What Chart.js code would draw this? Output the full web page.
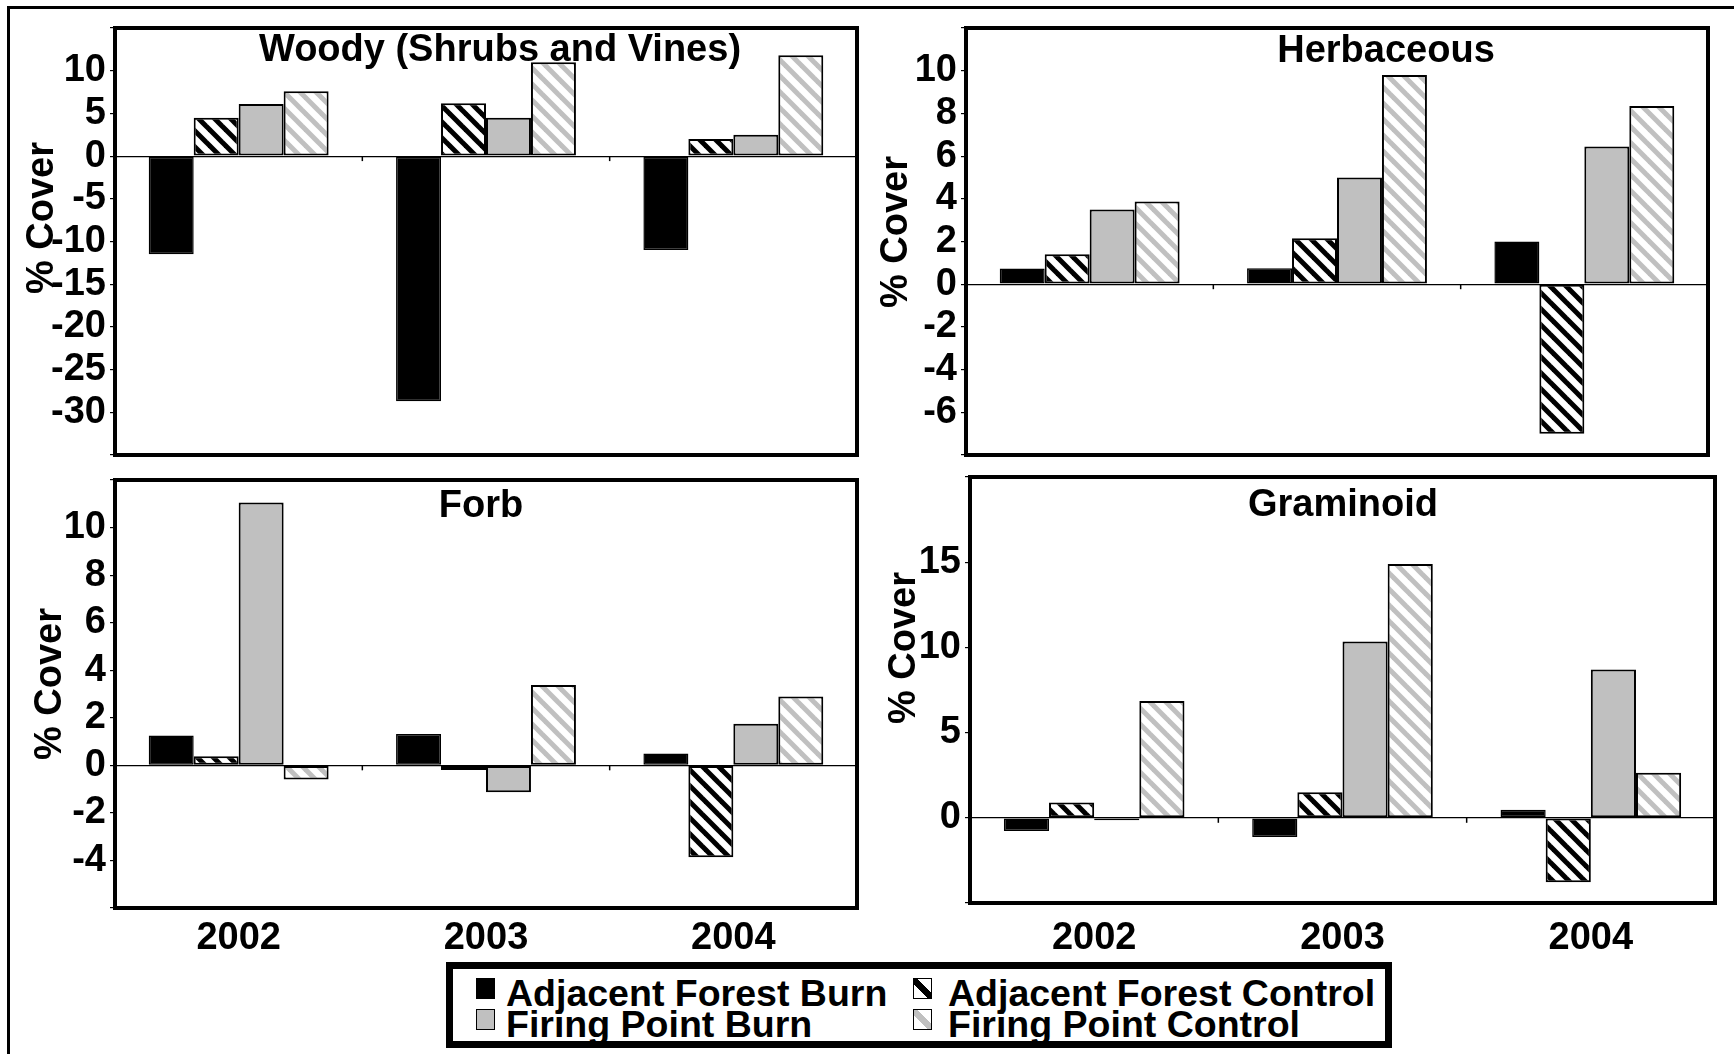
<!DOCTYPE html>
<html>
<head>
<meta charset="utf-8">
<script src="https://cdn.jsdelivr.net/npm/chart.js@4.4.0/dist/chart.umd.min.js"></script>
<style>
  html, body { margin: 0; padding: 0; background: #fff; }
  body { width: 1734px; height: 1054px; position: relative; overflow: hidden;
         font-family: 'Liberation Sans', Arial, sans-serif; }
  canvas { position: absolute; left: 0; top: 0; }
  #frame { position: absolute; left: 7px; top: 6px; width: 1760px; height: 1080px;
           border-top: 3px solid #000; border-left: 3px solid #000; }
  #legend { position: absolute; left: 446px; top: 962px; width: 946px; height: 86px;
            box-sizing: border-box; border: 7px solid #000; background: #fff; }
  #legend .sw { position: absolute; width: 19px; height: 21px; box-sizing: border-box; border: 1.5px solid #000; }
  #legend .tx { position: absolute; font-weight: bold; font-size: 37.5px; line-height: 36px; white-space: nowrap; color: #000; }
</style>
</head>
<body>
<div id="frame"></div>
<canvas id="woody" width="1734" height="1054"></canvas>
<canvas id="herb" width="1734" height="1054"></canvas>
<canvas id="forb" width="1734" height="1054"></canvas>
<canvas id="gram" width="1734" height="1054"></canvas>
<div id="legend">
  <div class="sw" style="left:23px;top:9px;background:#000"></div>
  <div class="tx" style="left:53px;top:6px">Adjacent Forest Burn</div>
  <div class="sw" style="left:460px;top:9px;background:linear-gradient(45deg,#fff 38%,#000 38%,#000 62%,#fff 62%)"></div>
  <div class="tx" style="left:495px;top:6px">Adjacent Forest Control</div>
  <div class="sw" style="left:23px;top:40px;background:#c0c0c0"></div>
  <div class="tx" style="left:53px;top:37px">Firing Point Burn</div>
  <div class="sw" style="left:460px;top:40px;background:linear-gradient(45deg,#fff 38%,#c0c0c0 38%,#c0c0c0 62%,#fff 62%)"></div>
  <div class="tx" style="left:495px;top:37px">Firing Point Control</div>
</div>
<script>
const years = ['2002', '2003', '2004'];
const seriesNames = ['Adjacent Forest Burn', 'Adjacent Forest Control', 'Firing Point Burn', 'Firing Point Control'];

// Woody (Shrubs and Vines)
const woodyAFB = [-11.5, -28.7, -11.0];
const woodyAFC = [4.5, 6.2, 2.0];
const woodyFPB = [6.1, 4.5, 2.5];
const woodyFPC = [7.6, 11.0, 11.8];

// Herbaceous
const herbAFB = [0.73, 0.75, 2.0];
const herbAFC = [1.4, 2.15, -7.0];
const herbFPB = [3.5, 5.0, 6.45];
const herbFPC = [3.87, 9.8, 8.35];

// Forb
const forbAFB = [1.25, 1.32, 0.5];
const forbAFC = [0.38, -0.2, -3.87];
const forbFPB = [11.05, -1.13, 1.75];
const forbFPC = [-0.6, 3.38, 2.9];

// Graminoid
const gramAFB = [-0.77, -1.13, 0.47];
const gramAFC = [0.9, 1.5, -3.78];
const gramFPB = [-0.15, 10.35, 8.7];
const gramFPC = [6.85, 14.9, 2.65];

const FONT = "'Liberation Sans', Arial, sans-serif";
Chart.defaults.font.family = FONT;
Chart.defaults.font.weight = 'bold';
Chart.defaults.color = '#000';

function stripes(ctx, color) {
    const tile = document.createElement('canvas');
    tile.width = tile.height = 16;
    const c = tile.getContext('2d');
    c.fillStyle = '#fff';
    c.fillRect(0, 0, 16, 16);
    c.strokeStyle = color;
    c.lineWidth = 5;
    for (let k = -1; k <= 1; k++) {
        c.beginPath();
        c.moveTo(k * 16 - 4, -4);
        c.lineTo(k * 16 + 20, 20);
        c.stroke();
    }
    return ctx.createPattern(tile, 'repeat');
}

// frame, zero-line category ticks, panel title and y title
const panelDecor = {
    id: 'panelDecor',
    afterDraw(chart, args, opts) {
        const ctx = chart.ctx, a = chart.chartArea;
        const xs = chart.scales.x, y0 = chart.scales.y.getPixelForValue(0);
        ctx.save();
        ctx.strokeStyle = '#000';
        ctx.lineWidth = 1.5;
        for (let i = 1; i < chart.data.labels.length; i++) {
            const px = (xs.getPixelForTick(i - 1) + xs.getPixelForTick(i)) / 2;
            ctx.beginPath();
            ctx.moveTo(px, y0);
            ctx.lineTo(px, y0 + 5);
            ctx.stroke();
        }
        ctx.lineWidth = 4;
        ctx.strokeRect(a.left, a.top, a.right - a.left, a.bottom - a.top);
        ctx.fillStyle = '#000';
        ctx.font = 'bold 38px ' + FONT;
        ctx.textAlign = 'center';
        ctx.textBaseline = 'middle';
        ctx.fillText(opts.title, opts.titleX, opts.titleY);
        ctx.translate(opts.labelX, opts.labelY);
        ctx.rotate(-Math.PI / 2);
        ctx.fillText('% Cover', 0, 0);
        ctx.restore();
    }
};

function makePanel(id, p) {
    const canvas = document.getElementById(id);
    const ctx = canvas.getContext('2d');
    const YW = 100;
    const XH = p.showX ? 60 : 0;
    const styles = [
        { backgroundColor: '#000', borderColor: '#000', borderWidth: 1.5 },
        { backgroundColor: stripes(ctx, '#000'), borderColor: '#000', borderWidth: 2 },
        { backgroundColor: '#c0c0c0', borderColor: '#000', borderWidth: 2 },
        { backgroundColor: stripes(ctx, '#c0c0c0'), borderColor: '#000', borderWidth: 2 }
    ];
    new Chart(ctx, {
        type: 'bar',
        data: {
            labels: years,
            datasets: p.values.map((v, i) => Object.assign({
                label: seriesNames[i],
                data: v,
                borderSkipped: false,
                categoryPercentage: 4 / 5.5,
                barPercentage: 1
            }, styles[i]))
        },
        options: {
            responsive: false,
            animation: false,
            devicePixelRatio: 1,
            layout: {
                padding: {
                    left: p.box[0] - YW,
                    top: p.box[1],
                    right: 1734 - p.box[2],
                    bottom: 1054 - p.box[3] - XH
                }
            },
            scales: {
                x: {
                    grid: { display: false, drawTicks: false },
                    border: { display: false },
                    ticks: { display: p.showX, padding: p.xPad, font: { size: 38, weight: 'bold' } },
                    afterFit(s) { s.height = XH; }
                },
                y: {
                    min: p.min,
                    max: p.max,
                    border: { display: false },
                    grid: {
                        color: c => (c.tick && c.tick.value === 0) ? '#000' : 'rgba(0,0,0,0)',
                        lineWidth: 1.2,
                        tickColor: '#000',
                        tickLength: 5,
                        tickWidth: 1.2
                    },
                    ticks: {
                        stepSize: p.step,
                        autoSkip: false,
                        padding: 4,
                        font: { size: 38, weight: 'bold' },
                        callback: (v, i, t) => (i === 0 || i === t.length - 1) ? '' : v
                    },
                    afterFit(s) { s.width = YW; }
                }
            },
            plugins: {
                legend: { display: false },
                tooltip: { enabled: false },
                panelDecor: p.decor
            }
        },
        plugins: [panelDecor]
    });
}

makePanel('woody', {
    values: [woodyAFB, woodyAFC, woodyFPB, woodyFPC],
    box: [115, 28, 857, 455], min: -35, max: 15, step: 5, showX: false, xPad: 0,
    decor: { title: 'Woody (Shrubs and Vines)', titleX: 500, titleY: 51, labelX: 43, labelY: 218 }
});
makePanel('herb', {
    values: [herbAFB, herbAFC, herbFPB, herbFPC],
    box: [966, 28, 1708, 455], min: -8, max: 12, step: 2, showX: false, xPad: 0,
    decor: { title: 'Herbaceous', titleX: 1386, titleY: 52, labelX: 897, labelY: 232 }
});
makePanel('forb', {
    values: [forbAFB, forbAFC, forbFPB, forbFPC],
    box: [115, 480, 857, 908], min: -6, max: 12, step: 2, showX: true, xPad: 8,
    decor: { title: 'Forb', titleX: 481, titleY: 507, labelX: 51, labelY: 684 }
});
makePanel('gram', {
    values: [gramAFB, gramAFC, gramFPB, gramFPC],
    box: [970, 477, 1715, 903], min: -5, max: 20, step: 5, showX: true, xPad: 13,
    decor: { title: 'Graminoid', titleX: 1343, titleY: 506, labelX: 905, labelY: 648 }
});
</script>
</body>
</html>
